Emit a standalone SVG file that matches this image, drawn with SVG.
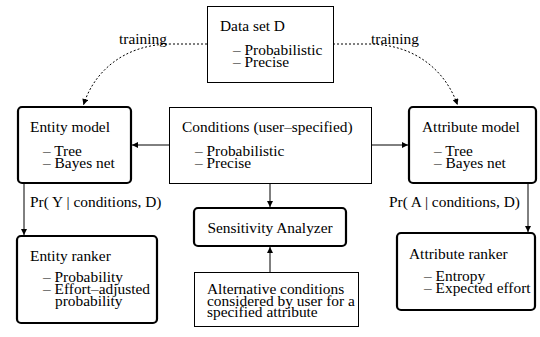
<svg xmlns="http://www.w3.org/2000/svg" width="540" height="337" viewBox="0 0 540 337" font-family="'Liberation Serif', 'DejaVu Serif', serif" font-size="15.4">
<defs>
<marker id="ah" viewBox="0 0 10 10" refX="10" refY="5" markerWidth="8" markerHeight="6" markerUnits="userSpaceOnUse" orient="auto">
<path d="M0,0 L10,5 L0,10 z" fill="#000"/>
</marker>
</defs>
<style>
text{font-family:'Liberation Serif','DejaVu Serif',serif;font-size:15.4px;fill:#000}
.thin{fill:#fff;stroke:#000;stroke-width:1}
.thick{fill:#fff;stroke:#000;stroke-width:2.2}
.ln{fill:none;stroke:#000;stroke-width:1}
.dash{fill:none;stroke:#000;stroke-width:1;stroke-dasharray:2,2}
</style>
<rect width="540" height="337" fill="#fff"/>
<g id="connectors">
<path class="dash" d="M207,44 L172,44 C122,44 93,74 83.5,105" marker-end="url(#ah)"/>
<path class="dash" d="M333,44 L368,44 C418,44 447,74 457.5,105" marker-end="url(#ah)"/>
<path class="ln" d="M169,145 L132,145" marker-end="url(#ah)"/>
<path class="ln" d="M371,145 L408,145" marker-end="url(#ah)"/>
<path class="ln" d="M270,183 L270,207" marker-end="url(#ah)"/>
<path class="ln" d="M270,272 L270,247" marker-end="url(#ah)"/>
<path class="ln" d="M24,184 L24,235" marker-end="url(#ah)"/>
<path class="ln" d="M528,184 L528,232" marker-end="url(#ah)"/>
<text x="119" y="44">training</text>
<text x="371" y="44">training</text>
<text x="30" y="207">Pr( Y | conditions, D)</text>
<text x="389" y="207">Pr( A | conditions, D)</text>
</g>
<g id="dataset">
<rect class="thin" x="207.5" y="6.5" width="126" height="76"/>
<text x="220" y="31">Data set D</text>
<text x="233" y="55">– Probabilistic</text>
<text x="233" y="67">– Precise</text>
</g>
<g id="entity-model">
<rect class="thick" x="18" y="107" width="113" height="76" rx="4"/>
<text x="30" y="132">Entity model</text>
<text x="43" y="156">– Tree</text>
<text x="43" y="168">– Bayes net</text>
</g>
<g id="conditions">
<rect class="thin" x="169.5" y="107.5" width="202" height="76"/>
<text x="182" y="132">Conditions (user–specified)</text>
<text x="195" y="156">– Probabilistic</text>
<text x="195" y="168">– Precise</text>
</g>
<g id="attribute-model">
<rect class="thick" x="409" y="107" width="127" height="76" rx="4"/>
<text x="422" y="132">Attribute model</text>
<text x="434" y="156">– Tree</text>
<text x="434" y="168">– Bayes net</text>
</g>
<g id="sensitivity">
<rect class="thick" x="194" y="208" width="152" height="38" rx="4"/>
<text x="270" y="233" text-anchor="middle">Sensitivity Analyzer</text>
</g>
<g id="entity-ranker">
<rect class="thick" x="17" y="236" width="140" height="87" rx="4"/>
<text x="30" y="261">Entity ranker</text>
<text x="43" y="282">– Probability</text>
<text x="43" y="294">– Effort–adjusted</text>
<text x="55" y="306">probability</text>
</g>
<g id="alternative">
<rect class="thin" x="194.5" y="272.5" width="164" height="54"/>
<text x="207" y="294">Alternative conditions</text>
<text x="207" y="305.5">considered by user for a</text>
<text x="207" y="317">specified attribute</text>
</g>
<g id="attribute-ranker">
<rect class="thick" x="397" y="233" width="138" height="77" rx="4"/>
<text x="409" y="259">Attribute ranker</text>
<text x="424" y="281">– Entropy</text>
<text x="424" y="293">– Expected effort</text>
</g>
</svg>
